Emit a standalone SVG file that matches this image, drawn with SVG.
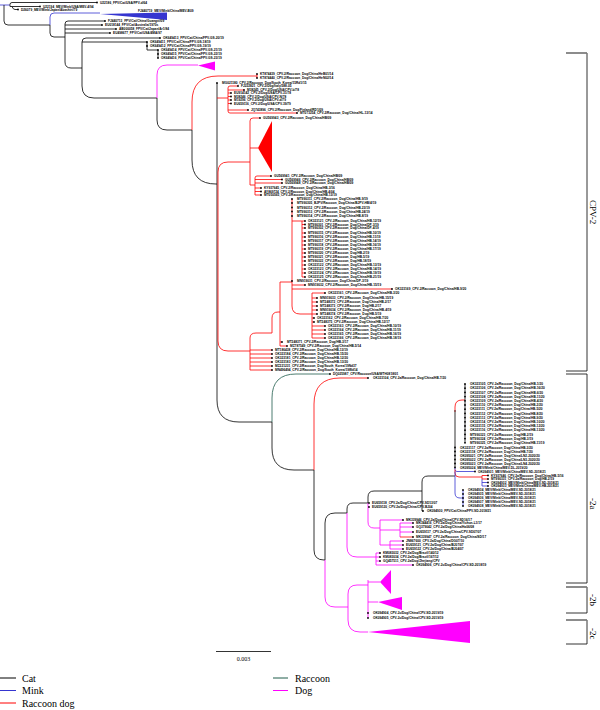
<svg xmlns="http://www.w3.org/2000/svg" width="600" height="710" viewBox="0 0 600 710">
<style>
.k{fill:none;stroke:#000;stroke-width:.8}
.b{fill:none;stroke:#3535d0;stroke-width:.8}
.r{fill:none;stroke:#ff0000;stroke-width:.8}
.g{fill:none;stroke:#1f5c4b;stroke-width:.8}
.m{fill:none;stroke:#ff00ff;stroke-width:.8}
text{font-family:"Liberation Sans",Arial,sans-serif;font-size:3.2px;font-weight:bold;fill:#000}
.lg{font-family:"Liberation Serif","Times New Roman",serif;font-size:10px;font-weight:normal;fill:#000}
.cl{font-family:"Liberation Serif","Times New Roman",serif;font-size:9px;font-weight:normal;fill:#000}
.sc{font-family:"Liberation Serif","Times New Roman",serif;font-size:6px;font-weight:normal;fill:#000}
circle{fill:#000}
.br{fill:none;stroke:#000;stroke-width:.8}
.tk{stroke:#888;stroke-width:1.6}
</style>
<rect width="600" height="710" fill="#fff"/>
<g id="connectors">
<path class="b" d="M0 5H10"/>
<path class="k" d="M4 5V21Q4 25 8 25H50M10 5V4.5Q10 2.5 12 2.5H97M10 5V6.5H40M12 6.5Q13 9.5 15 9.5H18"/>
<path class="b" d="M50 25V17Q50 13 54 13H100"/>
<path class="k" d="M50 25V33Q50 37 54 37H65M65 37V24Q65 21 68 21H105M65 25H102M65 29H116M65 33H110M65 37V62Q65 68 71 68H82"/>
<path class="k" d="M82 68V42Q82 38 86 38H160M82 42H147M147 42V50H158V58M82 68V86Q82 98 94 98H157"/>
<path class="m" d="M157 98V75Q157 65 167 65H198"/>
<path class="k" d="M157 98V120Q157 130 167 130H192"/>
<path class="r" d="M192 130V102Q192 76 218 76H257M257 74V78"/>
<path class="k" d="M192 130V160Q192 184 216 184H217M217 83V400Q217 422 239 422H272"/>
<path class="r" d="M217 98H228M228 88V111Q228 113 230 113H297M228 88Q228 86 230 86H238M228 90H244M228 93H231M228 96.5H231M228 100H231M228 103.5H231M228 110H248"/>
<path class="r" d="M218 172Q218 162 228 162H250M218 172V341Q218 351 228 351H250"/>
<path class="r" d="M250 121V185M250 121Q250 118 253 118H260M250 148H258M250 185H255M255 178V195M255 178Q255 176 257 176H271M255 179.5H282M255 183H282M255 188H261M255 191.5H261M255 195H261"/>
<path class="r" d="M250 345V370M250 350H272M250 354H272M250 358H272M250 362H272M250 366H272M250 370H272M250 345V338Q250 333 256 333H272V318Q272 312 278 312H280"/>
<path class="r" d="M280 282V346M280 342H282M280 346H287M280 282H292"/>
<path class="r" d="M292 199V306Q292 314 300 314H312M292 221H302M292 285H305M292 289H392"/>
<path class="r" d="M302 221V277M302 224.5H305M302 228H305M302 233H305M302 237H305M302 241H305M302 245H305M302 249H305M302 253H305M302 257H305M302 261H305M302 265H305M302 269H305M302 273H305M302 277H305M302 221H305"/>
<path class="r" d="M312 293V338M312 293H325M312 298H317M312 302H317M312 306H317M312 310H317M312 314H317M312 318H314M312 322H314M312 326H325M312 330H325M312 334H325M312 338H325"/>
<path class="g" d="M272 422V398Q272 374 296 374H330"/>
<path class="k" d="M272 422V448Q272 470 294 470H314"/>
<path class="r" d="M314 470V404Q314 378 340 378H368"/>
<path class="k" d="M314 470V550Q314 560 324 560H325M325 560V523Q325 513 335 513H347M347 513V509Q347 503 353 503H368M368 503V497Q368 491 374 491H422"/>
<path class="m" d="M325 560V597Q325 607 335 607H348M347 513V547Q347 557 357 557H376M368 503V522Q368 528 374 528H380M368 507H369"/>
<path class="m" d="M380 520V545M380 520H403M380 530H400M400 523V537M400 523H413M400 527H413M400 532H413M380 545H390M390 541V549M390 541H403M390 545H403M390 549H403"/>
<path class="r" d="M400 537H413"/>
<path class="m" d="M376 553V565M376 553H380M376 557H380M376 561H380M376 565H413"/>
<path class="m" d="M348 607V594Q348 585 357 585H368M348 607V620Q348 632 360 632H368M368 580V618M368 582H380M368 602H378"/>
<path class="k" d="M422 491V482Q422 476 428 476H455M422 491V511H423"/>
<path class="r" d="M455 412V407Q455 400 462 400H465"/>
<path class="k" d="M455 410V467.5M465 384V443"/>
<path class="b" d="M455 467.5V469.5Q455 471.5 457 471.5H475"/>
<path class="r" d="M455 469.5V473Q455 477 459 477H482M482 475.5V479M482 475.5H488M482 479H488"/>
<path class="b" d="M482 479V486M482 482.5H488M482 486H488M455 471.5V493Q455 498 460 498H463M463 490V506"/>
</g>
<g id="clade-mink"><polygon points="100,14 167,12.6 167,20" fill="#3535d0"/></g>
<g id="clade-dog-top"><polygon points="198,65.5 215,61.5 215,70.5" fill="#ff00ff"/></g>
<g id="clade-raccoondog"><polygon points="258,148 272,121 272,172" fill="#ff0000"/></g>
<g id="clade-2b-1"><polygon points="380,582 391,570 391,594" fill="#ff00ff"/></g>
<g id="clade-2b-2"><polygon points="378,602 402,597 402,610" fill="#ff00ff"/></g>
<g id="clade-2c"><polygon points="368,632 470,621 470,643" fill="#ff00ff"/></g>
<g id="leaves-cat-mink">
<g id="n1"><circle cx="97" cy="2.5" r=".9"/><text x="100" y="3.7">U22186_FPV/Cat/USA/FPV-d/64</text></g>
<g id="n2"><circle cx="40" cy="6.5" r=".9"/><text x="43" y="7.7">U22194_MEV/Mink/USA/MEV-4/94</text></g>
<g id="n3"><circle cx="18" cy="9.5" r=".9"/><text x="21" y="10.7">D26079_MEV/Mink/Japan/Abashiri/79</text></g>
<g id="n4"><text x="138" y="12.4">FJ440719_MEV/Mink/China/MEV-B09</text></g>
<g id="n5"><circle cx="105" cy="21" r=".9"/><text x="108" y="22.2">FJ440713_FPV/Cat/China/Guangxi/09</text></g>
<g id="n6"><circle cx="102" cy="25" r=".9"/><text x="105" y="26.2">EU018144_FPV/Cat/Australia/1970s</text></g>
<g id="n7"><circle cx="116" cy="29" r=".9"/><text x="119" y="30.2">AB000058_FPV/Cat/Japan/Ar1/84</text></g>
<g id="n8"><circle cx="110" cy="33" r=".9"/><text x="113" y="34.2">EU498677_FPV/Cat/USA/4MA/97</text></g>
<g id="n9"><circle cx="160" cy="38" r=".9"/><text x="163" y="39.2">OK649413_FPV/Cat/China/FPV-GS-20/19</text></g>
<g id="n10"><circle cx="147" cy="42" r=".9"/><text x="150" y="43.2">OK649411_FPV/Cat/China/FPV-GS-18/19</text></g>
<g id="n11"><circle cx="147" cy="46" r=".9"/><text x="150" y="47.2">OK649412_FPV/Cat/China/FPV-GS-19/19</text></g>
<g id="n12"><circle cx="158" cy="50" r=".9"/><text x="161" y="51.2">OK649414_FPV/Cat/China/FPV-GS-21/19</text></g>
<g id="n13"><circle cx="158" cy="54" r=".9"/><text x="161" y="55.2">OK649415_FPV/Cat/China/FPV-GS-22/19</text></g>
<g id="n14"><circle cx="158" cy="58" r=".9"/><text x="161" y="59.2">OK649416_FPV/Cat/China/FPV-GS-23/19</text></g>
</g>
<g id="leaves-cpv2">
<g id="n15"><circle cx="257" cy="74" r=".9"/><text x="260" y="75.2">KT874439_CPV-2/Raccoon_Dog/China/HeB01/14</text></g>
<g id="n16"><circle cx="257" cy="78" r=".9"/><text x="260" y="79.2">KT874440_CPV-2/Raccoon_Dog/China/HeN02/14</text></g>
<g id="n17"><circle cx="217" cy="83" r=".9"/><text x="222" y="84.2">MG021180_CPV-2/Raccoon_Dog/South_Korea/15Rd1/15</text></g>
<g id="n18"><circle cx="238" cy="86" r=".9"/><text x="241" y="87.2">FJ222821_CPV-2/Dog/Italy/388-05</text></g>
<g id="n19"><circle cx="244" cy="90" r=".9"/><text x="247" y="91.2">M38245_CPV-2/Dog/USA/CPV-b/78</text></g>
<g id="n20"><circle cx="231" cy="93" r=".9"/><text x="234" y="94.2">EU914142_CPV-2/Dog/USA/CPV-31/78</text></g>
<g id="n21"><circle cx="231" cy="96.5" r=".9"/><text x="234" y="97.7">M38246_CPV-2/Dog/USA/CPV-N/78</text></g>
<g id="n22"><circle cx="231" cy="100" r=".9"/><text x="234" y="101.2">M19296_CPV-2/Dog/USA/CPV-d/79</text></g>
<g id="n23"><circle cx="231" cy="103.5" r=".9"/><text x="234" y="104.7">EU659116_CPV-2/Dog/USA/CPV-39/79</text></g>
<g id="n24"><circle cx="248" cy="110" r=".9"/><text x="251" y="111.2">JQ743896_CPV-2/Raccoon_Dog/Finland/RD1/09</text></g>
<g id="n25"><circle cx="297" cy="113" r=".9"/><text x="300" y="114.2">MT073254_CPV-2/Raccoon_Dog/China/HL-13/14</text></g>
<g id="n26"><circle cx="260" cy="118" r=".9"/><text x="263" y="119.2">GU569943_CPV-2/Raccoon_Dog/China/HB/09</text></g>
<g id="n27"><circle cx="271" cy="176" r=".9"/><text x="274" y="177.2">GU569941_CPV-2/Raccoon_Dog/China/HB/09</text></g>
<g id="n28"><circle cx="282" cy="179.5" r=".9"/><text x="285" y="180.7">GU569946_CPV-2/Raccoon_Dog/China/HB/09</text></g>
<g id="n29"><circle cx="282" cy="183" r=".9"/><text x="285" y="184.2">GU569948_CPV-2/Raccoon_Dog/China/HB/09</text></g>
<g id="n30"><circle cx="261" cy="188" r=".9"/><text x="264" y="189.2">KY937645_CPV-2/Raccoon_Dog/China/HB-3/16</text></g>
<g id="n31"><circle cx="261" cy="191.5" r=".9"/><text x="264" y="192.7">AY869724_CPV-2/Raccoon_Dog/China/HB-4/04</text></g>
<g id="n32"><circle cx="261" cy="195" r=".9"/><text x="264" y="196.2">MT050565_CPV-2/Raccoon_Dog/China/HB-13/19</text></g>
<g id="n33"><circle cx="292" cy="199" r=".9"/><text x="297" y="200.2">MT990311_CPV-2/Raccoon_Dog/China/HB-9/19</text></g>
<g id="n34"><circle cx="292" cy="203" r=".9"/><text x="297" y="204.2">MT990305_BJPV/Raccoon_Dog/China/BJPV-HB/4/19</text></g>
<g id="n35"><circle cx="292" cy="207.5" r=".9"/><text x="297" y="208.7">MT990312_CPV-2/Raccoon_Dog/China/HB-23/19</text></g>
<g id="n36"><circle cx="292" cy="211.5" r=".9"/><text x="297" y="212.7">MT990313_CPV-2/Raccoon_Dog/China/HB-24/19</text></g>
<g id="n37"><circle cx="292" cy="216" r=".9"/><text x="297" y="217.2">MT990314_CPV-2/Raccoon_Dog/China/HB-8/19</text></g>
<g id="n38"><circle cx="305" cy="221" r=".9"/><text x="308" y="222.2">OK323121_CPV-2/Raccoon_Dog/China/HB-12/19</text></g>
<g id="n39"><circle cx="305" cy="224.5" r=".9"/><text x="308" y="225.7">MT990301_CPV-2/Raccoon_Dog/China/DP-3/19</text></g>
<g id="n40"><circle cx="305" cy="228" r=".9"/><text x="308" y="229.2">MT990302_CPV-2/Raccoon_Dog/China/DP-4/19</text></g>
<g id="n41"><circle cx="305" cy="233" r=".9"/><text x="308" y="234.2">MT990315_CPV-2/Raccoon_Dog/China/HB-10/19</text></g>
<g id="n42"><circle cx="305" cy="237" r=".9"/><text x="308" y="238.2">MT990316_CPV-2/Raccoon_Dog/China/HB-11/19</text></g>
<g id="n43"><circle cx="305" cy="241" r=".9"/><text x="308" y="242.2">MT990317_CPV-2/Raccoon_Dog/China/HB-14/19</text></g>
<g id="n44"><circle cx="305" cy="245" r=".9"/><text x="308" y="246.2">MT990318_CPV-2/Raccoon_Dog/China/HB-16/19</text></g>
<g id="n45"><circle cx="305" cy="249" r=".9"/><text x="308" y="250.2">MT990319_CPV-2/Raccoon_Dog/China/HB-17/19</text></g>
<g id="n46"><circle cx="305" cy="253" r=".9"/><text x="308" y="254.2">MT990320_CPV-2/Raccoon_Dog/HB-2/19</text></g>
<g id="n47"><circle cx="305" cy="257" r=".9"/><text x="308" y="258.2">MT990321_CPV-2/Raccoon_Dog/HB-5/19</text></g>
<g id="n48"><circle cx="305" cy="261" r=".9"/><text x="308" y="262.2">MT990322_CPV-2/Raccoon_Dog/HB-18/19</text></g>
<g id="n49"><circle cx="305" cy="265" r=".9"/><text x="308" y="266.2">OK323122_CPV-2/Raccoon_Dog/China/HB-13/19</text></g>
<g id="n50"><circle cx="305" cy="269" r=".9"/><text x="308" y="270.2">OK323123_CPV-2/Raccoon_Dog/China/HB-14/19</text></g>
<g id="n51"><circle cx="305" cy="273" r=".9"/><text x="308" y="274.2">OK323124_CPV-2/Raccoon_Dog/China/HB-19/19</text></g>
<g id="n52"><circle cx="305" cy="277" r=".9"/><text x="308" y="278.2">OK323125_CPV-2/Raccoon_Dog/China/HB-21/19</text></g>
<g id="n53"><circle cx="292" cy="281" r=".9"/><text x="297" y="282.2">MN919031_CPV-2/Raccoon_Dog/China/DP-3/19</text></g>
<g id="n54"><circle cx="305" cy="285" r=".9"/><text x="308" y="286.2">MN919032_CPV-2/Raccoon_Dog/China/HB-15/19</text></g>
<g id="n55"><circle cx="392" cy="289" r=".9"/><text x="395" y="290.2">OK323169_CPV-2/Raccoon_Dog/China/HB-9/20</text></g>
<g id="n56"><circle cx="325" cy="293" r=".9"/><text x="328" y="294.2">OK323161_CPV-2/Raccoon_Dog/China/HB-3/20</text></g>
<g id="n57"><circle cx="317" cy="298" r=".9"/><text x="320" y="299.2">MN919033_CPV-2/Raccoon_Dog/China/HB-15/19</text></g>
<g id="n58"><circle cx="317" cy="302" r=".9"/><text x="320" y="303.2">MT248372_CPV-2/Raccoon_Dog/China/HB-2/17</text></g>
<g id="n59"><circle cx="317" cy="306" r=".9"/><text x="320" y="307.2">MT248373_CPV-2/Raccoon_Dog/HB-2/17</text></g>
<g id="n60"><circle cx="317" cy="310" r=".9"/><text x="320" y="311.2">MN919034_CPV-2/Raccoon_Dog/China/HB-4/19</text></g>
<g id="n61"><circle cx="317" cy="314" r=".9"/><text x="320" y="315.2">MT248374_CPV-2/Raccoon_Dog/HB-5/19</text></g>
<g id="n62"><circle cx="314" cy="318" r=".9"/><text x="317" y="319.2">OK323162_CPV-2/Raccoon_Dog/China/HB-7/20</text></g>
<g id="n63"><circle cx="314" cy="322" r=".9"/><text x="317" y="323.2">MT248375_CPV-2/Raccoon_Dog/China/HB-12/17</text></g>
<g id="n64"><circle cx="325" cy="326" r=".9"/><text x="328" y="327.2">OK323163_CPV-2/Raccoon_Dog/China/HB-10/19</text></g>
<g id="n65"><circle cx="325" cy="330" r=".9"/><text x="328" y="331.2">OK323164_CPV-2/Raccoon_Dog/China/HB-11/19</text></g>
<g id="n66"><circle cx="325" cy="334" r=".9"/><text x="328" y="335.2">OK323165_CPV-2/Raccoon_Dog/China/HB-16/19</text></g>
<g id="n67"><circle cx="325" cy="338" r=".9"/><text x="328" y="339.2">OK323166_CPV-2/Raccoon_Dog/China/HB-18/19</text></g>
<g id="n68"><circle cx="282" cy="342" r=".9"/><text x="287" y="343.2">MT248371_CPV-2/Raccoon_Dog/HB-3/17</text></g>
<g id="n69"><circle cx="287" cy="346" r=".9"/><text x="290" y="347.2">MZ787549_CPV-2/Raccoon_Dog/China/HB-5/14</text></g>
<g id="n70"><circle cx="272" cy="350" r=".9"/><text x="275" y="351.2">MT186438_CPV-2/Raccoon_Dog/China/HB-13/19</text></g>
<g id="n71"><circle cx="272" cy="354" r=".9"/><text x="275" y="355.2">OK323184_CPV-2/Raccoon_Dog/China/HB-15/20</text></g>
<g id="n72"><circle cx="272" cy="358" r=".9"/><text x="275" y="359.2">OK323181_CPV-2/Raccoon_Dog/China/HB-12/20</text></g>
<g id="n73"><circle cx="272" cy="362" r=".9"/><text x="275" y="363.2">OK323183_CPV-2/Raccoon_Dog/China/HB-13/20</text></g>
<g id="n74"><circle cx="272" cy="366" r=".9"/><text x="275" y="367.2">MZ221231_CPV-2/Raccoon_Dog/South_Korea/19Nd37</text></g>
<g id="n75"><circle cx="272" cy="370" r=".9"/><text x="275" y="371.2">MN496494_CPV-2/Raccoon_Dog/South_Korea/19Wd14</text></g>
</g>
<g id="leaves-2a">
<g id="n76"><circle cx="330" cy="374" r=".9"/><text x="333" y="375.2">DQ025987_CPV/Raccoon/USA/WTH0818/01</text></g>
<g id="n77"><circle cx="368" cy="378" r=".9"/><text x="373" y="379.2">OK323104_CPV-2a/Raccoon_Dog/China/HB-7/20</text></g>
<g id="n78"><circle cx="465" cy="384" r=".9"/><text x="470" y="385.2">OK323105_CPV-2a/Raccoon_Dog/China/HB-1/20</text></g>
<g id="n79"><circle cx="465" cy="388.2" r=".9"/><text x="470" y="389.4">OK323106_CPV-2a/Raccoon_Dog/China/HB-16/20</text></g>
<g id="n80"><circle cx="465" cy="392.4" r=".9"/><text x="470" y="393.6">OK323107_CPV-2a/Raccoon_Dog/China/HB-6/20</text></g>
<g id="n81"><circle cx="465" cy="396.6" r=".9"/><text x="470" y="397.8">OK323108_CPV-2a/Raccoon_Dog/China/HB-11/20</text></g>
<g id="n82"><circle cx="465" cy="400.8" r=".9"/><text x="470" y="402">OK323109_CPV-2a/Raccoon_Dog/China/HB-4/20</text></g>
<g id="n83"><circle cx="465" cy="405" r=".9"/><text x="470" y="406.2">OK323110_CPV-2a/Raccoon_Dog/China/HB-2/20</text></g>
<g id="n84"><circle cx="465" cy="409.2" r=".9"/><text x="470" y="410.4">OK323111_CPV-2a/Raccoon_Dog/China/HB-5/20</text></g>
<g id="n85"><circle cx="465" cy="413.4" r=".9"/><text x="470" y="414.6">OK323112_CPV-2a/Raccoon_Dog/China/HB-8/20</text></g>
<g id="n86"><circle cx="465" cy="417.6" r=".9"/><text x="470" y="418.8">OK323113_CPV-2a/Raccoon_Dog/China/HB-9/20</text></g>
<g id="n87"><circle cx="465" cy="421.8" r=".9"/><text x="470" y="423">OK323114_CPV-2a/Raccoon_Dog/China/HB-10/20</text></g>
<g id="n88"><circle cx="465" cy="426" r=".9"/><text x="470" y="427.2">OK323115_CPV-2a/Raccoon_Dog/China/HB-12/20</text></g>
<g id="n89"><circle cx="465" cy="430.2" r=".9"/><text x="470" y="431.4">OK323116_CPV-2a/Raccoon_Dog/China/HB-13/20</text></g>
<g id="n90"><circle cx="465" cy="434.4" r=".9"/><text x="470" y="435.6">MT990323_CPV-2a/Raccoon_Dog/HB-2/19</text></g>
<g id="n91"><circle cx="465" cy="438.6" r=".9"/><text x="470" y="439.8">MT990324_CPV-2a/Raccoon_Dog/HB-3/19</text></g>
<g id="n92"><circle cx="465" cy="442.8" r=".9"/><text x="470" y="444">MT990325_CPV-2a/Raccoon_Dog/China/HB-11/19</text></g>
<g id="n93"><circle cx="455" cy="447.5" r=".9"/><text x="460" y="448.7">OK323117_CPV-2a/Raccoon_Dog/China/HB-3/20</text></g>
<g id="n94"><circle cx="455" cy="451.5" r=".9"/><text x="460" y="452.7">OK323118_CPV-2a/Raccoon_Dog/China/HB-7/20</text></g>
<g id="n95"><circle cx="455" cy="455.5" r=".9"/><text x="460" y="456.7">OK095021_CPV-2a/Raccoon_Dog/China/LN2-2020/20</text></g>
<g id="n96"><circle cx="455" cy="459.5" r=".9"/><text x="460" y="460.7">OK095022_CPV-2a/Raccoon_Dog/China/LN3-2020/20</text></g>
<g id="n97"><circle cx="455" cy="463.5" r=".9"/><text x="460" y="464.7">OK095023_CPV-2a/Raccoon_Dog/China/LN4-2020/20</text></g>
<g id="n98"><circle cx="455" cy="467.5" r=".9"/><text x="460" y="468.7">OK095024_MEV/Mink/China/MEV-DL-2019/20</text></g>
<g id="n99"><circle cx="475" cy="471.5" r=".9"/><text x="478" y="472.7">OK094931_MEV/Mink/China/MEV-SD-2018/21</text></g>
<g id="n100"><circle cx="488" cy="475.5" r=".9"/><text x="491" y="476.7">KY937646_CPV-2a/Raccoon_Dog/China/HB-5/16</text></g>
<g id="n101"><circle cx="488" cy="479" r=".9"/><text x="491" y="480.2">MT990331_CPV-2a/Raccoon_Dog/HB-2/19</text></g>
<g id="n102"><circle cx="488" cy="482.5" r=".9"/><text x="491" y="483.7">OK094932_MEV/Mink/China/MEV-SD-2018/21</text></g>
<g id="n103"><circle cx="488" cy="486" r=".9"/><text x="491" y="487.2">OK094933_MEV/Mink/China/MEV-HB-2018/21</text></g>
<g id="n104"><circle cx="463" cy="490" r=".9"/><text x="468" y="491.2">OK094934_MEV/Mink/China/MEV-SD-2018/21</text></g>
<g id="n105"><circle cx="463" cy="494" r=".9"/><text x="468" y="495.2">OK094935_MEV/Mink/China/MEV-SD-2018/21</text></g>
<g id="n106"><circle cx="463" cy="498" r=".9"/><text x="468" y="499.2">OK094936_MEV/Mink/China/MEV-SD-2018/21</text></g>
<g id="n107"><circle cx="463" cy="502" r=".9"/><text x="468" y="503.2">OK094937_MEV/Mink/China/MEV-SD-2018/21</text></g>
<g id="n108"><circle cx="463" cy="506" r=".9"/><text x="468" y="507.2">OK094938_MEV/Mink/China/MEV-SD-2018/21</text></g>
<g id="n109"><circle cx="423" cy="511" r=".9"/><text x="427" y="512.2">OK094930_FPV/Cat/China/FPV-SD-2018/21</text></g>
<g id="n110"><circle cx="369" cy="503" r=".9"/><text x="372" y="504.2">EU659118_CPV-2a/Dog/China/CPV-SD13/07</text></g>
<g id="n111"><circle cx="369" cy="507" r=".9"/><text x="372" y="508.2">EU659120_CPV-2a/Dog/China/CPV-BJ04</text></g>
<g id="n112"><circle cx="403" cy="520" r=".9"/><text x="406" y="521.2">MK339946_CPV-2a/Dog/China/CPV-SD16/17</text></g>
<g id="n113"><circle cx="413" cy="523" r=".9"/><text x="416" y="524.2">MK344416_CPV-2a/Dog/China/Yichun-L1/17</text></g>
<g id="n114"><circle cx="413" cy="527" r=".9"/><text x="416" y="528.2">GQ379042_CPV-2a/Dog/China/Ha06/08</text></g>
<g id="n115"><circle cx="413" cy="532" r=".9"/><text x="416" y="533.2">EU659117_CPV-2a/Dog/China/CPV-SD07/07</text></g>
<g id="n116"><circle cx="413" cy="537" r=".9"/><text x="416" y="538.2">MK339947_CPV-2a/Raccoon_Dog/China/SD/17</text></g>
<g id="n117"><circle cx="403" cy="541" r=".9"/><text x="406" y="542.2">JN867600_CPV-2a/Dog/China/DG07/10</text></g>
<g id="n118"><circle cx="403" cy="545" r=".9"/><text x="406" y="546.2">EU659121_CPV-2a/Dog/China/BJ07/07</text></g>
<g id="n119"><circle cx="403" cy="549" r=".9"/><text x="406" y="550.2">EU659122_CPV-2a/Dog/China/BJ04/07</text></g>
<g id="n120"><circle cx="380" cy="553" r=".9"/><text x="383" y="554.2">KM083032_CPV-2a/Dog/Brazil/140/12</text></g>
<g id="n121"><circle cx="380" cy="557" r=".9"/><text x="383" y="558.2">KM083034_CPV-2a/Dog/Brazil/167/12</text></g>
<g id="n122"><circle cx="380" cy="561" r=".9"/><text x="383" y="562.2">GQ457511_CPV-2a/Dog/Zhejiang/CPV</text></g>
<g id="n123"><circle cx="413" cy="565" r=".9"/><text x="416" y="566.2">OK094906_CPV-2c/Dog/China/CPV-SD-2018/19</text></g>
<g id="n124"><circle cx="368" cy="613" r=".9"/><text x="373" y="614.2">OK094904_CPV-2c/Dog/China/CPV-SD-2019/19</text></g>
<g id="n125"><circle cx="368" cy="618" r=".9"/><text x="373" y="619.2">OK094905_CPV-2c/Dog/China/CPV-SD-2019/19</text></g>
</g>
<g id="brackets">
<path class="br" d="M566 53H587V371H566M566 374H587V583H566M566 587H587V613H566M566 620H587V644H566"/>
<path class="tk" d="M566 53H587M566 587H587M566 620H587"/>
<text class="cl" transform="translate(590 200) rotate(90)">CPV-2</text>
<text class="cl" transform="translate(590 498) rotate(90)">-2a</text>
<text class="cl" transform="translate(590 594) rotate(90)">-2b</text>
<text class="cl" transform="translate(590 628) rotate(90)">-2c</text>
</g>
<g id="scale">
<path class="k" d="M216 651.5H271"/>
<text class="sc" x="243.5" y="661" text-anchor="middle">0.003</text>
</g>
<g id="legend">
<path d="M0 678H16" stroke="#000" stroke-width="1"/>
<text class="lg" x="22" y="681.5">Cat</text>
<path d="M0 690.5H16" stroke="#3535d0" stroke-width="1"/>
<text class="lg" x="22" y="694">Mink</text>
<path d="M0 703H16" stroke="#ff0000" stroke-width="1"/>
<text class="lg" x="22" y="706.5">Raccoon dog</text>
<path d="M273 678H288" stroke="#1f5c4b" stroke-width="1"/>
<text class="lg" x="295" y="681.5">Raccoon</text>
<path d="M273 690.5H288" stroke="#ff00ff" stroke-width="1"/>
<text class="lg" x="295" y="694">Dog</text>
</g>
</svg>
